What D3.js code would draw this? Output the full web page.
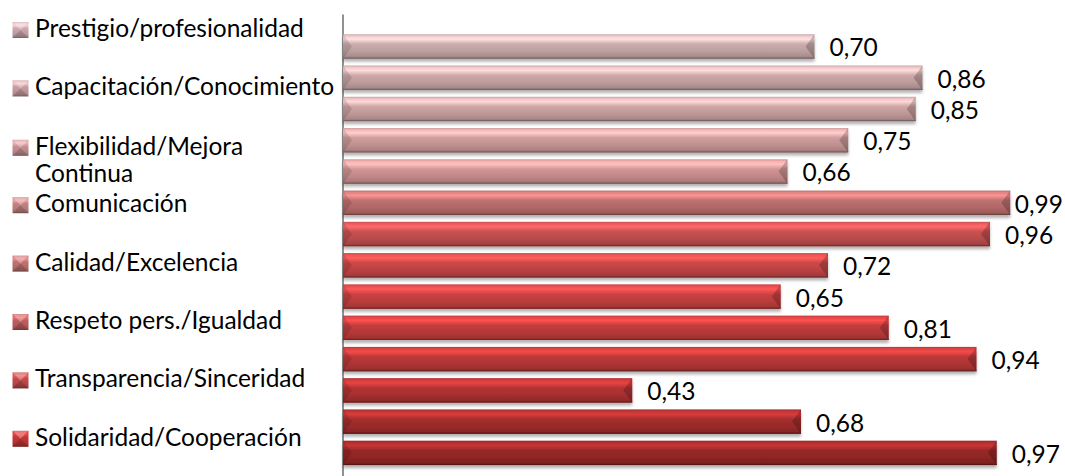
<!DOCTYPE html>
<html><head><meta charset="utf-8">
<script src="https://cdn.jsdelivr.net/npm/d3@7"></script>
<style>
html,body{margin:0;padding:0;background:#fff;}
svg{display:block;font-family:Lato,"Open Sans",sans-serif;}
</style>
</head><body>
<svg id="chart" width="1065" height="476"></svg>
<script>
// ---- data ----
const barIds = ["b1","b2","b3","b4","b5","b6","b7","b8","b9","b10","b11","b12","b13","b14"];
const values = [0.70,0.86,0.85,0.75,0.66,0.99,0.96,0.72,0.65,0.81,0.94,0.43,0.68,0.97];
const legendNames = ["Prestigio/profesionalidad","Capacitación/Conocimiento","Flexibilidad/Mejora Continua","Comunicación","Calidad/Excelencia","Respeto pers./Igualdad","Transparencia/Sinceridad","Solidaridad/Cooperación"];

// ---- styles ----
const barColors = ["#bb9e9e","#bc9b9b","#bd9797","#bf9090","#c18888","#b06767","#b84a4a","#bb4242","#b93c3c","#b43838","#ad3434","#a42f2f","#982a2a","#8c2525"];
const legendColors = ["#bf9da1","#bb9396","#b8888a","#b67a7a","#b36a6a","#b25858","#b34646","#b63333"];
const FS = 24.5;

const svg = d3.select("#chart");
const defs = svg.append("defs");

const f = defs.append("filter").attr("id","sh").attr("x","-5%").attr("y","-40%").attr("width","110%").attr("height","200%");
f.append("feDropShadow").attr("dx",0).attr("dy",3).attr("stdDeviation",1.6).attr("flood-color","#000").attr("flood-opacity",0.3);

function addGrad(id, base, k){
  const c = d3.color(base);
  const g = defs.append("linearGradient").attr("id",id).attr("x1",0).attr("y1",0).attr("x2",0).attr("y2",1);
  const stops = [[0,c.brighter(0.2*k)],[0.08,c.brighter(0.7*k)],[0.2,c.brighter(1.0*k)],[0.4,c.brighter(0.25*k)],[0.7,c],[0.9,c.darker(0.3)],[1,c.darker(0.9)]];
  stops.forEach(([o,col])=>g.append("stop").attr("offset",o).attr("stop-color",col.formatHex()));
}
barColors.forEach((c,i)=>addGrad("bg"+i,c,1));
legendColors.forEach((c,i)=>addGrad("lg"+i,c,0.8));

// ---- scales ----
const x = d3.scaleLinear().domain([0,1]).range([342,1017]);
const y = d3.scaleBand().domain(barIds).range([30.8,468.5]).paddingInner(0.22).paddingOuter(0.11);

// axis line
const yAxisScale = d3.scaleLinear().domain([0,1]).range([14,476]);
const ax = svg.append("g").attr("transform","translate(342.5,0)")
  .call(d3.axisLeft(yAxisScale).tickValues([]).tickSizeOuter(0));
ax.select(".domain").attr("stroke","#868686").attr("stroke-width",1.8);

// bars
const bars = svg.append("g").selectAll("g.bar").data(values).join("g").attr("class","bar");
bars.each(function(v,i){
  const g = d3.select(this);
  const x0 = x(0)+1, x1 = x(v), y0 = y(barIds[i]), h = y.bandwidth(), y1 = y0+h, ym = y0+h/2;
  const bev = 9;
  g.append("rect").attr("x",x0).attr("y",y0).attr("width",x1-x0).attr("height",h)
    .attr("fill","url(#bg"+i+")").attr("filter","url(#sh)");
  g.append("polygon").attr("points",[[x0,y0],[x0+bev,ym],[x0,y1]].map(p=>p.join(",")).join(" "))
    .attr("fill","#000").attr("fill-opacity",0.12);
  g.append("polygon").attr("points",[[x1,y0],[x1-bev,ym],[x1,y1]].map(p=>p.join(",")).join(" "))
    .attr("fill","#000").attr("fill-opacity",0.2);
  g.append("line").attr("x1",x0).attr("x2",x1).attr("y1",y1-0.5).attr("y2",y1-0.5)
    .attr("stroke",d3.color(barColors[i]).darker(1.3).formatHex()).attr("stroke-width",1);
});

// labels
svg.append("g").selectAll("text").data(values).join("text")
  .attr("y",(v,i)=>y(barIds[i])+y.bandwidth()/2+10)
  .attr("font-size",FS).attr("fill","#000")
  .text(v=>d3.format(".2f")(v).replace(".",","))
  .attr("x",function(v){ const w=this.getComputedTextLength(); return Math.min(x(v)+15, 1063-w); });

// legend
const lg = svg.append("g");
const maxW = 305;
legendNames.forEach((name,i)=>{
  const base = 37 + i*58.4;
  const t = lg.append("text").attr("x",35).attr("font-size",FS).attr("fill","#000");
  const words = name.split(" ");
  let lines = [], cur = "";
  const probe = lg.append("text").attr("font-size",FS);
  words.forEach(w=>{
    const test = cur ? cur+" "+w : w;
    probe.text(test);
    if (probe.node().getComputedTextLength() > maxW && cur){ lines.push(cur); cur = w; }
    else cur = test;
  });
  lines.push(cur);
  probe.remove();
  const shift = lines.length>1 ? 1 : 0;
  lines.forEach((ln,k)=>t.append("tspan").attr("x",35).attr("y",base+shift+k*27.5).text(ln));
  const mx = 12.5, my = base+shift-15, s = 16;
  lg.append("rect").attr("x",mx).attr("y",my).attr("width",s).attr("height",s).attr("fill","url(#lg"+i+")");
  lg.append("polygon").attr("points",[[mx,my],[mx+s,my],[mx+s/2,my+s/2]].map(p=>p.join(",")).join(" "))
    .attr("fill","#fff").attr("fill-opacity",0.3);
  lg.append("polygon").attr("points",[[mx,my+s],[mx+s,my+s],[mx+s/2,my+s/2]].map(p=>p.join(",")).join(" "))
    .attr("fill","#000").attr("fill-opacity",0.15);
});
</script>
</body></html>
